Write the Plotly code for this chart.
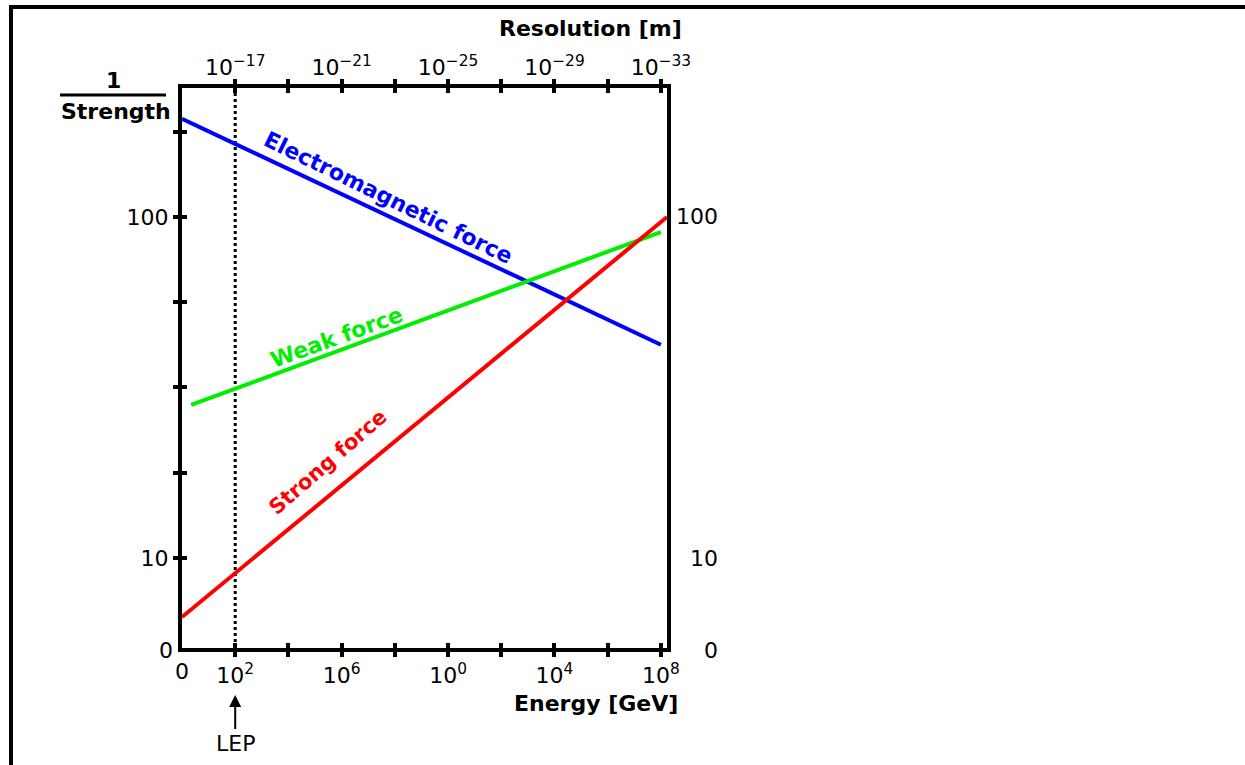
import plotly.graph_objects as go

# Running inverse couplings (1/strength) versus energy in GeV
em_energy = [1.0, 1.0e18]
em_inv_strength = [194.0, 42.2]

weak_energy = [2.2, 1.0e18]
weak_inv_strength = [28.1, 90.3]

strong_energy = [1.0, 1.7e18]
strong_inv_strength = [6.71, 100.0]

lep_energy = 1.0e2

# Tick positions and labels
energy_ticks = [10.0 ** k for k in range(2, 19, 2)]
energy_labels = ["10<sup>2</sup>", "", "10<sup>6</sup>", "", "10<sup>0</sup>", "",
                 "10<sup>4</sup>", "", "10<sup>8</sup>"]
resolution_labels = ["10<sup>−17</sup>", "", "10<sup>−21</sup>", "", "10<sup>−25</sup>", "",
                     "10<sup>−29</sup>", "", "10<sup>−33</sup>"]
strength_ticks = [10.0 ** (1 + 0.25 * k) for k in range(6)]
strength_labels = ["10", "", "", "", "100", ""]
right_labels = ["100", "10", "0"]

# Figure geometry (pixels)
FIG_W, FIG_H = 1245, 765
L, R, T, B = 182, 667, 88, 648
W, H = R - L, B - T
X_RANGE = [0.0, 18.23]
Y_RANGE = [0.736, 2.378]

FONT = "DejaVu Sans"
BLACK = "#000000"


def px_x(p):
    return (p - L) / W


def px_y(p):
    return (B - p) / H


fig = go.Figure()

fig.add_trace(go.Scatter(x=em_energy, y=em_inv_strength, mode="lines",
                         line=dict(color="#0000ff", width=4), showlegend=False))
fig.add_trace(go.Scatter(x=weak_energy, y=weak_inv_strength, mode="lines",
                         line=dict(color="#00ee00", width=4), showlegend=False))
fig.add_trace(go.Scatter(x=strong_energy, y=strong_inv_strength, mode="lines",
                         line=dict(color="#ff0000", width=4), showlegend=False))

# LEP energy marker
fig.add_shape(type="line", xref="x", yref="paper", x0=lep_energy, x1=lep_energy,
              y0=0, y1=1, line=dict(color=BLACK, width=3, dash="dot"), layer="below")

axis_common = dict(showgrid=False, zeroline=False, showline=True,
                   linecolor=BLACK, linewidth=4, ticklen=5, tickwidth=4,
                   tickcolor=BLACK, tickfont=dict(family=FONT, size=22, color=BLACK))

fig.update_layout(
    width=FIG_W, height=FIG_H,
    margin=dict(l=L, r=FIG_W - R, t=T, b=FIG_H - B, pad=0),
    paper_bgcolor="white", plot_bgcolor="white",
    font=dict(family=FONT, size=22, color=BLACK),
    xaxis=dict(type="log", range=X_RANGE, ticks="outside", mirror="allticks",
               tickmode="array", tickvals=energy_ticks, ticktext=energy_labels,
               **axis_common),
    xaxis2=dict(type="log", range=X_RANGE, overlaying="x", side="top",
                ticks="inside", mirror="allticks", tickmode="array",
                tickvals=energy_ticks, ticktext=resolution_labels, **axis_common),
    yaxis=dict(type="log", range=Y_RANGE, ticks="outside", mirror=True,
               tickmode="array", tickvals=strength_ticks, ticktext=strength_labels,
               **axis_common),
    yaxis2=dict(type="log", range=Y_RANGE, overlaying="y", side="left",
                ticks="inside", tickmode="array", tickvals=strength_ticks,
                showticklabels=False, **axis_common),
)

# invisible trace that activates the secondary axes
fig.add_trace(go.Scatter(x=[em_energy[0]], y=[em_inv_strength[0]], xaxis="x2", yaxis="y2",
                         mode="markers", marker=dict(opacity=0), showlegend=False,
                         hoverinfo="skip"))

ann = []


def text(x, y, s, size=22, color=BLACK, xanchor="center", yanchor="middle",
         angle=0, bold=False):
    ann.append(dict(xref="paper", yref="paper", x=px_x(x), y=px_y(y), text=s,
                    showarrow=False, xanchor=xanchor, yanchor=yanchor,
                    textangle=angle,
                    font=dict(family=FONT, size=size, color=color,
                              weight="bold" if bold else "normal")))


# axis titles
text(590, 29, "Resolution [m]", size=22, bold=True)
text(596, 703, "Energy [GeV]", size=22, bold=True)
text(113, 80, "1", size=22, bold=True)
text(116, 112, "Strength", size=22, bold=True)

# zero labels
text(166, 650, "0")
text(182, 671, "0")

# right-hand labels
for lab, yv in zip(right_labels, [217, 558, 650]):
    text(720, yv, lab, xanchor="right")

# force labels
text(388, 197, "Electromagnetic force", size=22, color="#0000ff", angle=26, bold=True)
text(336, 337, "Weak force", size=22, color="#00ee00", angle=-20, bold=True)
text(328, 462, "Strong force", size=21, color="#ff0000", angle=-41, bold=True)

# LEP arrow
ann.append(dict(xref="x", yref="paper", x=2, y=px_y(695), ax=0, ay=48,
                text="LEP", showarrow=True, arrowhead=2, arrowsize=1.2,
                arrowwidth=2, arrowcolor=BLACK, standoff=0,
                font=dict(family=FONT, size=22, color=BLACK)))

fig.update_layout(annotations=ann)

# fraction bar and outer frame
fig.add_shape(type="line", xref="paper", yref="paper", x0=px_x(60), x1=px_x(166),
              y0=px_y(95), y1=px_y(95), line=dict(color=BLACK, width=3))
fig.add_shape(type="line", xref="paper", yref="paper", x0=px_x(9), x1=px_x(FIG_W + 5),
              y0=px_y(7), y1=px_y(7), line=dict(color=BLACK, width=4))
fig.add_shape(type="line", xref="paper", yref="paper", x0=px_x(11), x1=px_x(11),
              y0=px_y(5), y1=px_y(FIG_H + 5), line=dict(color=BLACK, width=4))

fig.write_html("out.html")
